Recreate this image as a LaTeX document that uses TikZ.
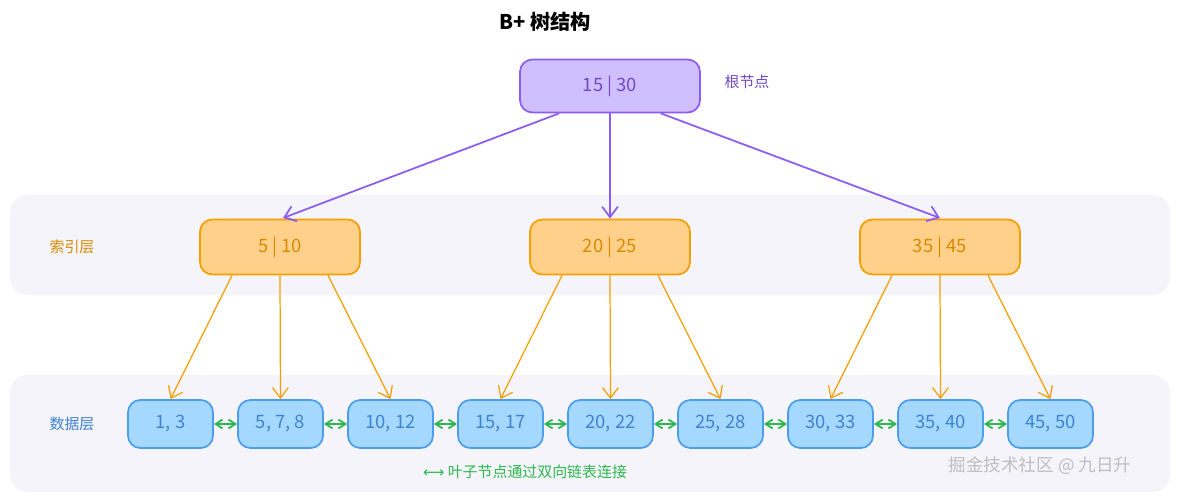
\documentclass[tikz,border=0pt]{standalone}
\usepackage{fontspec}
\setmainfont{Noto Sans CJK SC}
\newfontfamily\symf{DejaVu Sans}
\usetikzlibrary{arrows.meta}
\definecolor{pfill}{HTML}{D0BFFF}\definecolor{pline}{HTML}{8B5CF6}\definecolor{ptext}{HTML}{7048C8}
\definecolor{ofill}{HTML}{FFD08A}\definecolor{oline}{HTML}{F59F00}\definecolor{otext}{HTML}{D98A00}
\definecolor{bfill}{HTML}{A5D8FF}\definecolor{bline}{HTML}{4A9EED}\definecolor{btext}{HTML}{3F82D0}
\definecolor{gline}{HTML}{2FB84F}\definecolor{band}{HTML}{F4F4FA}
\begin{document}
\begin{tikzpicture}[x=0.02cm,y=-0.02cm,
 box/.style={rounded corners=7pt,line width=1pt,minimum height=0.02cm*53,font=\fontsize{10.5}{12}\selectfont},
 root/.style={box,fill=pfill,draw=pline,text=ptext,minimum width=0.02cm*180},
 idx/.style={box,fill=ofill,draw=oline,text=otext,minimum width=0.02cm*160,minimum height=0.02cm*55},
 leaf/.style={box,fill=bfill,draw=bline,text=btext,minimum width=0.02cm*85,minimum height=0.02cm*48},
 parr/.style={pline,line width=1pt,-{Straight Barb[length=6pt,width=9pt]}},
 oarr/.style={oline,line width=0.7pt,-{Straight Barb[length=6pt,width=9pt]}},
 garr/.style={gline,line width=1pt,{Straight Barb[length=4pt,width=5pt]}-{Straight Barb[length=4pt,width=5pt]}},
 lab/.style={font=\fontsize{8.5}{10}\selectfont}]
\useasboundingbox (0,0) rectangle (1188,500);
\fill[white] (0,0) rectangle (1188,500);
\fill[band,rounded corners=10pt] (10,195) rectangle (1170,295);
\fill[band,rounded corners=10pt] (10,375) rectangle (1170,492);
\node[font=\fontsize{11.5}{13}\selectfont\bfseries] (title) at (545,22) {B+ 树结构};
\node[root] (r) at (610,86) {15 | 30};
\node[lab,text=ptext] (rl) at (747,82) {根节点};
\node[lab,text=otext] (il) at (72,247) {索引层};
\node[lab,text=btext] (dl) at (72,424) {数据层};
\foreach \n/\x/\t in {a/280/5 | 10,b/610/20 | 25,c/940/35 | 45}
  \node[idx] (\n) at (\x,247) {\t};
\foreach \i/\t in {1/{1, 3},2/{5, 7, 8},3/{10, 12},4/{15, 17},5/{20, 22},6/{25, 28},7/{30, 33},8/{35, 40},9/{45, 50}}
  \node[leaf] (l\i) at (170.5+110*\i-110,424) {\t};
\draw[parr] (r.south west)++(40,0) -- (283,218);
\draw[parr] (r.south) -- (b.north);
\draw[parr] (r.south east)++(-40,0) -- (940,218);
\foreach \p/\a/\b/\c in {a/1/2/3,b/4/5/6,c/7/8/9}{
 \draw[oarr] ([xshift=-0.02cm*48]\p.south) -- (l\a.north);
 \draw[oarr] (\p.south) -- (l\b.north);
 \draw[oarr] ([xshift=0.02cm*48]\p.south) -- (l\c.north);
}
\foreach \i [evaluate=\i as \j using int(\i+1)] in {1,...,8}
  \draw[garr] (l\i.east) -- (l\j.west);
\node[lab,text=gline] (gl) at (525,472) {{\symf ⟷}\ 叶子节点通过双向链表连接};
\node[font=\fontsize{10}{12}\selectfont,text=black!25] (wm) at (1040,466) {掘金技术社区 @ 九日升};
\end{tikzpicture}
\end{document}
